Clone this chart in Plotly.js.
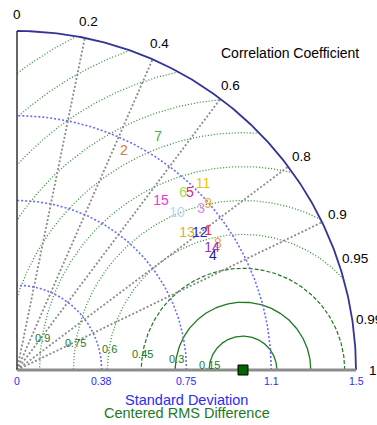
<!DOCTYPE html>
<html>
<head>
<meta charset="utf-8">
<script src="https://cdn.plot.ly/plotly-3.0.1.min.js"></script>
<style>html,body{margin:0;padding:0;background:#fff;}#chart{width:377px;height:425px;}</style>
</head>
<body>
<div id="chart"></div>
<script>
// ---- data ----
const caseLabels = ['1','2','3','4','5','6','7','8','9','10','11','12','13','14','15'];
const stdDev = [1.045, 1.078, 1.082, 1.001, 1.095, 1.071, 1.205, 1.047, 1.120, 0.992, 1.161, 1.009, 0.966, 1.018, 0.982];
const corrCoef = [0.809, 0.439, 0.753, 0.866, 0.699, 0.686, 0.518, 0.849, 0.755, 0.714, 0.709, 0.802, 0.779, 0.848, 0.649];
const caseColors = ['#ff2020','#e07830','#d488e8','#22228a','#e02468','#a0e050','#44aa44','#f0a040','#f0b040','#bcd6f0','#f8c000','#2424e0','#d4b040','#9933cc','#ff30d0'];

const refStd = 1.0;
const maxStd = 1.5;
const corrTicks = [0, 0.2, 0.4, 0.6, 0.8, 0.9, 0.95, 0.99, 1];
const corrTickLabels = ['0','0.2','0.4','0.6','0.8','0.9','0.95','0.99','1'];
const corrLines = [0.2, 0.4, 0.6, 0.8, 0.9];
const stdTicks = [0, 0.375, 0.75, 1.125, 1.5];
const stdTickLabels = ['0','0.38','0.75','1.1','1.5'];
const stdArcs = [0.375, 0.75, 1.125];
const rmsLevels = [0.15, 0.3, 0.45, 0.6, 0.75, 0.9, 1.05, 1.2, 1.35, 1.5, 1.65, 1.8];
const rmsLabels = ['0.15','0.3','0.45','0.6','0.75','0.9'];

const FONT = 'Liberation Sans, Arial, sans-serif';
const traces = [];

function arc(r, a0, a1, n) {
  const xs = [], ys = [];
  for (let i = 0; i <= n; i++) {
    const a = a0 + (a1 - a0) * i / n;
    xs.push(r * Math.cos(a)); ys.push(r * Math.sin(a));
  }
  return {xs, ys};
}

// RMS difference circles around the reference point
rmsLevels.forEach((R, i) => {
  const cLo = Math.min(1, (maxStd*maxStd - refStd*refStd - R*R) / (2*R*refStd));
  const cHi = Math.max(-1, -refStd / R);
  const p0 = Math.acos(cLo), p1 = Math.acos(cHi);
  const xs = [], ys = [];
  const n = 200;
  for (let k = 0; k <= n; k++) {
    const p = p0 + (p1 - p0) * k / n;
    xs.push(refStd + R*Math.cos(p)); ys.push(R*Math.sin(p));
  }
  let dash = 'dot', width = 1, color = '#2f922f';
  if (i < 2) { dash = 'solid'; width = 1.3; color = '#1e7a1e'; }
  else if (i === 2) { dash = '4px,2px'; width = 1.2; color = '#1e7a1e'; }
  else { dash = '1px,2px'; width = 1.3; }
  traces.push({x: xs, y: ys, mode: 'lines', line: {color, width, dash}, hoverinfo: 'skip', showlegend: false});
});

// Standard deviation arcs
stdArcs.forEach(r => {
  const a = arc(r, 0, Math.PI/2, 120);
  traces.push({x: a.xs, y: a.ys, mode: 'lines', line: {color: '#6a6aff', width: 1.6, dash: '2px,2px'}, hoverinfo: 'skip', showlegend: false});
});

// Correlation rays
corrLines.forEach(c => {
  const s = Math.sqrt(1 - c*c);
  traces.push({x: [0, maxStd*c], y: [0, maxStd*s], mode: 'lines', line: {color: '#8a8a8a', width: 1.8, dash: '2px,2px'}, hoverinfo: 'skip', showlegend: false});
});

// Outer arc
const outer = arc(maxStd, 0, Math.PI/2, 200);
traces.push({x: outer.xs, y: outer.ys, mode: 'lines', line: {color: '#333399', width: 1.8}, hoverinfo: 'skip', showlegend: false});

// Axes
traces.push({x: [0, 0], y: [0, maxStd], mode: 'lines', line: {color: '#333333', width: 1.5}, hoverinfo: 'skip', showlegend: false});
traces.push({x: [0, maxStd], y: [0, 0], mode: 'lines', line: {color: '#8c8c8c', width: 3}, hoverinfo: 'skip', showlegend: false});

// Reference point
traces.push({x: [refStd], y: [0], mode: 'markers', marker: {symbol: 'square', size: 10, color: '#006400', line: {color: '#000', width: 1}}, hoverinfo: 'skip', showlegend: false, cliponaxis: false});

// Cases
traces.push({
  x: stdDev.map((s, i) => s * corrCoef[i]),
  y: stdDev.map((s, i) => s * Math.sqrt(1 - corrCoef[i]*corrCoef[i])),
  mode: 'text', text: caseLabels, textposition: 'middle center',
  textfont: {family: FONT, size: 14, color: caseColors},
  hoverinfo: 'skip', showlegend: false, cliponaxis: false
});

// Annotations
const annotations = [];
const labR = 1.575;
corrTicks.forEach((c, i) => {
  const s = Math.sqrt(Math.max(0, 1 - c*c));
  annotations.push({x: labR*c, y: labR*s, text: corrTickLabels[i], showarrow: false,
    xanchor: 'center', yanchor: 'middle', font: {family: FONT, size: 13.5, color: '#000'}});
});
stdTicks.forEach((v, i) => {
  annotations.push({x: v, y: -0.048, text: stdTickLabels[i], showarrow: false,
    xanchor: 'center', yanchor: 'middle', font: {family: FONT, size: 10.5, color: '#2a2aff'}});
});
const labAng = 9.1 * Math.PI / 180;
rmsLabels.forEach((t, i) => {
  const R = rmsLevels[i];
  annotations.push({x: refStd - R*Math.cos(labAng), y: R*Math.sin(labAng), text: t, showarrow: false,
    xanchor: 'center', yanchor: 'middle', font: {family: FONT, size: 11, color: '#1e7a1e'}});
});
annotations.push({x: 1.208, y: 1.403, text: 'Correlation Coefficient', showarrow: false,
  xanchor: 'center', yanchor: 'middle', font: {family: FONT, size: 14, color: '#000'}});
annotations.push({x: 0.75, y: -0.133, text: 'Standard Deviation', showarrow: false,
  xanchor: 'center', yanchor: 'middle', font: {family: FONT, size: 14.5, color: '#2a2aff'}});
annotations.push({x: 0.75, y: -0.19, text: 'Centered RMS Difference', showarrow: false,
  xanchor: 'center', yanchor: 'middle', font: {family: FONT, size: 14.5, color: '#1e7a1e'}});

const layout = {
  width: 377, height: 425,
  margin: {l: 0, r: 0, t: 0, b: 0, pad: 0},
  paper_bgcolor: '#fff', plot_bgcolor: '#fff',
  xaxis: {range: [-17/226, 360/226], visible: false, fixedrange: true},
  yaxis: {range: [-55/226, 370/226], visible: false, fixedrange: true},
  annotations,
  showlegend: false
};
Plotly.newPlot('chart', traces, layout, {staticPlot: true, displayModeBar: false});
</script>
</body>
</html>
